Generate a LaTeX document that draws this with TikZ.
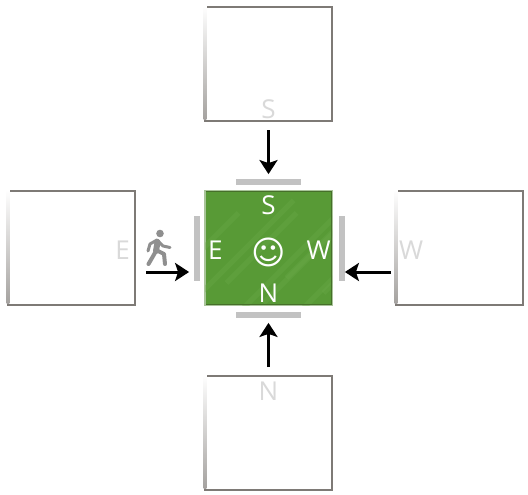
\documentclass[tikz,border=0pt]{standalone}
\usepackage{fontspec}
\setmainfont{Open Sans}
\newfontfamily\symbolfont{DejaVu Sans}
\usepackage{xcolor}
\usetikzlibrary{arrows.meta, positioning}
\definecolor{edgegray}{HTML}{7E7A76}
\definecolor{hubgreen}{HTML}{589A36}
\definecolor{hubedge}{HTML}{466F2A}
\definecolor{hubpale}{HTML}{A9C49A}
\definecolor{hubhatch}{HTML}{6BAA4A}
\definecolor{ghostgray}{HTML}{D9D9D9}
\definecolor{personcolor}{HTML}{8F8F8F}

\begin{document}
\begin{tikzpicture}[
  x=1pt, y=1pt,
  node distance=70pt and 70pt,
  room/.style={rectangle, draw=edgegray, line width=2.6pt, fill=white,
               minimum width=127pt, minimum height=114pt, inner sep=0pt, outer sep=0pt},
  hub/.style={room, draw=hubpale, line width=2.4pt, fill=hubgreen},
  doorh/.style={rectangle, fill=black!24, minimum width=65pt, minimum height=5.5pt, inner sep=0pt},
  doorv/.style={rectangle, fill=black!24, minimum width=5.5pt, minimum height=65pt, inner sep=0pt},
  ghost/.style={text=ghostgray, font=\fontsize{26}{26}\selectfont, inner sep=0pt},
  hublabel/.style={text=white, font=\fontsize{26}{26}\selectfont, inner sep=0pt},
  arrow/.style={-{Stealth[length=14pt, width=18pt, inset=3pt]}, line width=3pt, black},
  limb/.style={personcolor, line cap=round, line join=round}
]
\useasboundingbox (0,0) rectangle (528,-495);
\node[hub] (center) at (268.5,-248) {};
\begin{scope}
\clip (center.south west) rectangle (center.north east);
\foreach \offs/\len in {-100/70, -70/95, -42/70, -30/130, -5/110, 18/60, 25/140, 55/90, 84/60}
  \draw[hubhatch, line width=5pt, opacity=0.35]
    ([xshift=\offs pt, yshift=-\len/2 pt]center.center) -- ++(\len pt, \len pt);
\end{scope}
\draw[hubedge, line width=1pt] ([shift={(0.5,-0.5)}]center.north west) -- ([shift={(-0.5,-0.5)}]center.north east)
  -- ([shift={(-0.5,0.5)}]center.south east) -- ([shift={(0.5,0.5)}]center.south west);

\node[room, above=70pt of center] (roomS) {};
\node[room, below=71pt of center] (roomN) {};
\node[room, left=70pt of center] (roomE) {};
\node[room, right=64pt of center] (roomW) {};

\foreach \r in {roomS, roomN, roomE, roomW} {
  \shade[top color=white, bottom color=edgegray!70]
    ([xshift=-1.3pt, yshift=1.3pt]\r.north west) rectangle ([xshift=1.3pt, yshift=1.3pt]\r.south west);
}

\node[doorh, above=6pt of center] (doorS) {};
\node[doorh, below=7pt of center] (doorN) {};
\node[doorv, left=5pt of center] (doorE) {};
\node[doorv, right=7pt of center] (doorW) {};

\node[ghost, above=2pt of roomS.south] (ghostS) {S};
\node[ghost, below=6pt of roomN.north] (ghostN) {N};
\node[ghost, left=5pt of roomE.east, yshift=-2pt] (ghostE) {E};
\node[ghost, right=3pt of roomW.west, yshift=-2pt] (ghostW) {W};

\node[hublabel, below=4pt of center.north] (labelS) {S};
\node[hublabel, above=2pt of center.south] (labelN) {N};
\node[hublabel, right=3pt of center.west, yshift=-2pt] (labelE) {E};
\node[hublabel, left=1pt of center.east, yshift=-2pt] (labelW) {W};
\node[text=white, inner sep=0pt, font=\symbolfont\fontsize{33}{33}\selectfont] (face) at ([yshift=-4pt]center.center) {☺};

\draw[arrow, shorten <=9pt, shorten >=5pt] (roomS.south) -- (doorS.north);
\draw[arrow, shorten <=9pt, shorten >=5pt] (roomN.north) -- (doorN.south);
\draw[arrow, shorten <=11pt, shorten >=5pt] ([yshift=-24pt]roomE.east) -- ([yshift=-24pt]doorE.west);
\draw[arrow, shorten <=5pt, shorten >=0pt] ([yshift=-24pt]roomW.west) -- ([yshift=-24pt]doorW.east);

% walking person
\fill[personcolor] (160,-233.5) circle (3.8pt);
\draw[limb, line width=6pt] (157.5,-242) -- (156,-251);
\draw[limb, line width=4pt] (156,-251) -- (152,-258) -- (148.5,-264);
\draw[limb, line width=4pt] (156,-250) -- (164,-254) -- (165,-264);
\draw[limb, line width=3pt] (157,-240) -- (150,-244) -- (148,-251);
\draw[limb, line width=3pt] (157,-240) -- (163,-246) -- (170,-247.5);
\end{tikzpicture}
\end{document}
